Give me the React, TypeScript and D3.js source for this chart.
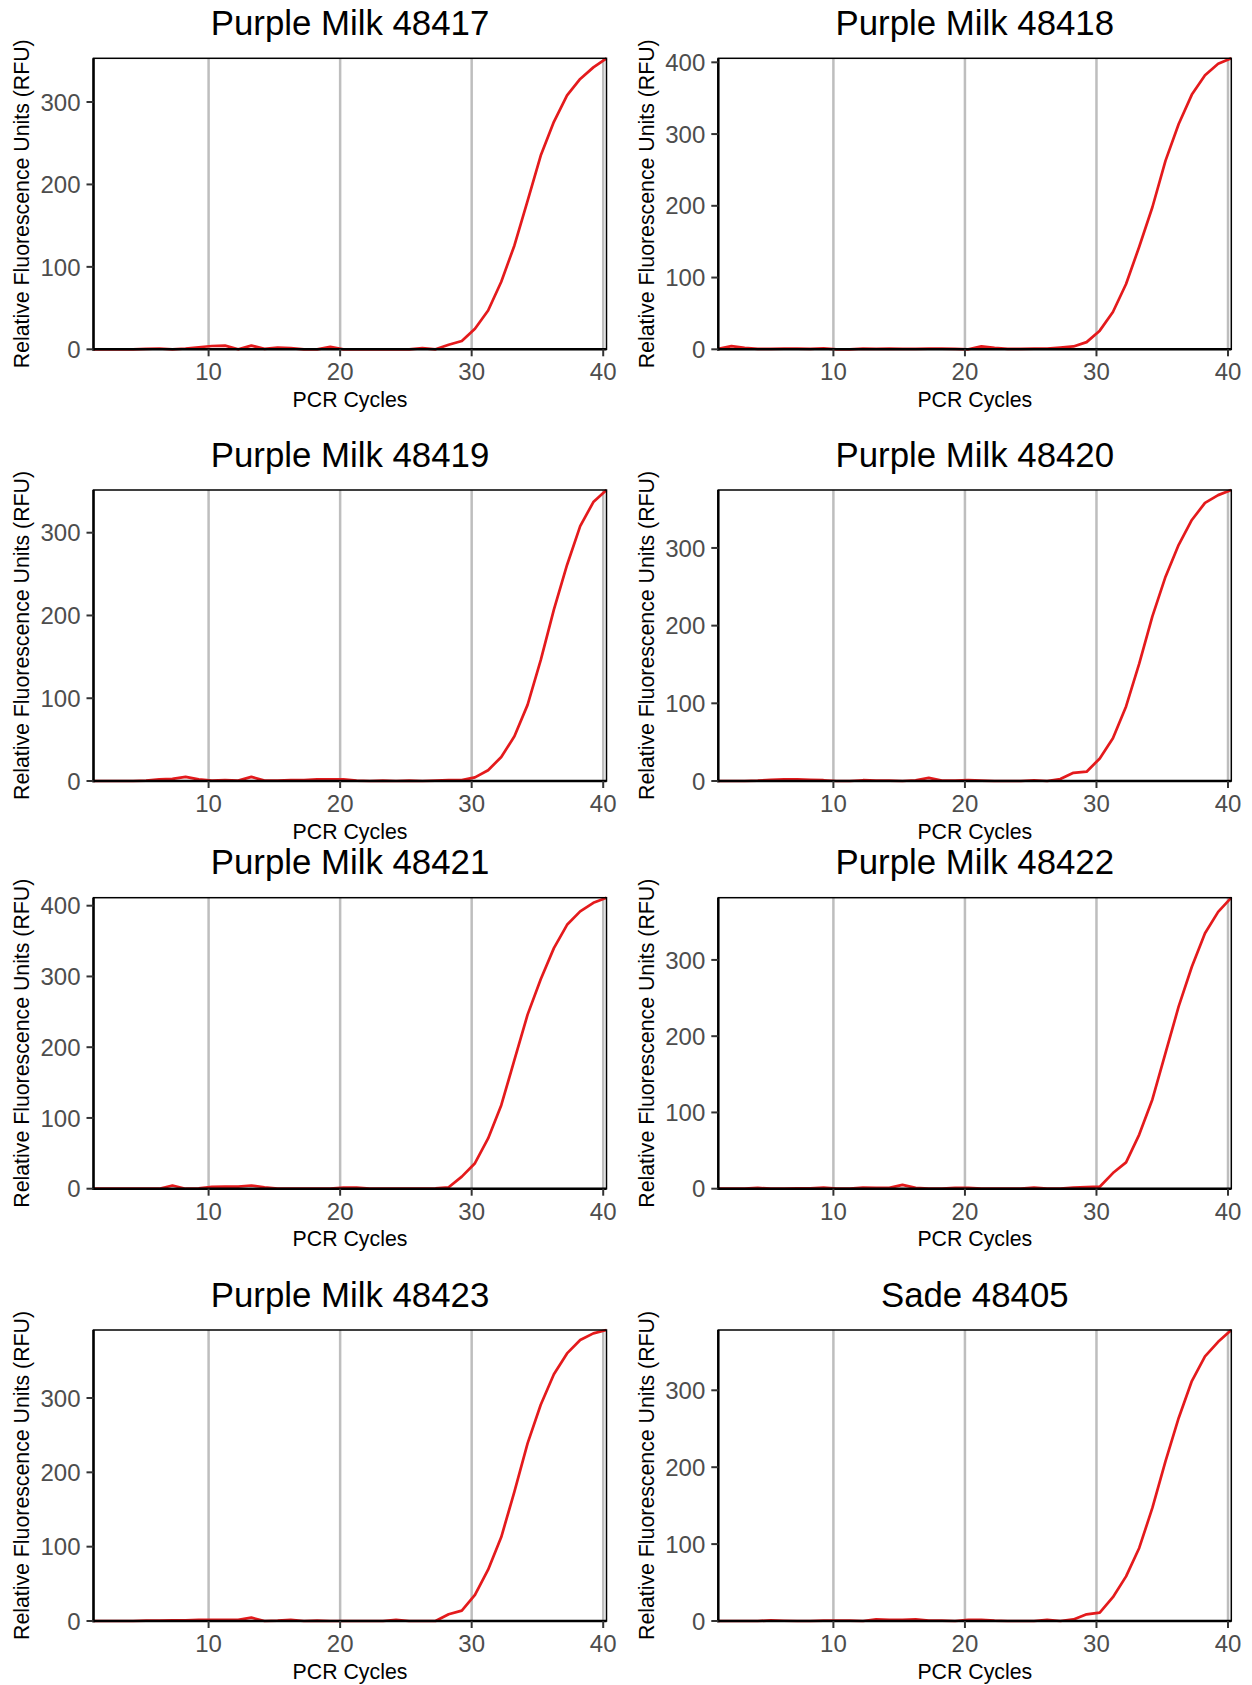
import React from "react";
import * as d3 from "d3";

// ---- data ----
const cycles = d3.range(1, 41); // PCR cycle numbers 1..40
const CYCLE_SHIFT = 0.25; // the curves' points sit ~0.25 cycle right of the integer gridlines

const sampleNames = [
  "Purple Milk 48417",
  "Purple Milk 48418",
  "Purple Milk 48419",
  "Purple Milk 48420",
  "Purple Milk 48421",
  "Purple Milk 48422",
  "Purple Milk 48423",
  "Sade 48405",
];

const rfu48417 = [0, 0, 0, 0, 0.5, 1, 0, 1, 2.5, 4, 4.5, 0, 4.5, 0.5, 2, 1.5, 0, 0, 3, 0, 0, 0, 0, 0, 0, 1.5, 0, 5.5, 10, 25, 47, 82, 126, 180, 235, 276, 308, 328, 342, 353];
const rfu48418 = [0.5, 4.5, 2, 0.5, 0.5, 1, 1, 0.5, 1.5, 0, 0, 1, 0.5, 1, 0.5, 0.5, 1, 1, 0.5, 0, 4, 2, 0.5, 0.5, 1, 1, 2.5, 4, 10, 26, 52, 91, 143, 198, 263, 314, 355, 382, 398, 405.6];
const rfu48419 = [0, 0, 0, 0, 0.5, 2, 2.5, 5, 2, 0.5, 1, 0.5, 5, 0.5, 0.5, 1, 1, 2, 2, 2, 0.5, 0, 0.5, 0, 0.5, 0, 0.5, 1, 1, 4.4, 13, 29, 54, 92, 146, 207, 261, 308, 337, 351.6];
const rfu48420 = [0, 0, 0, 0.5, 1.5, 2, 2, 1.5, 1, 0, 0, 1, 0.5, 0.5, 0, 1, 4, 0.5, 0.5, 1, 0.5, 0, 0, 0, 1, 0, 2.5, 10.5, 12, 29, 55, 96, 151, 212, 263, 304, 336, 358, 368, 374.6];
const rfu48421 = [0, 0, 0, 0, 0, 0, 4.5, 0, 0.5, 2.5, 3, 3, 4.5, 2, 0, 0, 0, 0, 0, 1.5, 1.5, 0, 0, 0, 0, 0, 0.5, 2, 17, 36, 71, 118, 182, 246, 296, 340, 373, 392, 404, 411.3];
const rfu48422 = [0, 0, 0, 1, 0, 0, 0.5, 0.5, 1.5, 0, 0, 1.5, 1, 1, 5, 1, 0, 0, 1, 1, 0, 0, 0, 0, 1.5, 0, 0, 1.5, 2, 2.6, 20.5, 34.5, 71, 117, 178, 239, 291, 335, 363, 381.6];
const rfu48423 = [0, 0, 0, 0, 0.5, 0.5, 1, 1, 1.5, 1.5, 1.5, 1.5, 4.5, 0, 0.5, 1.5, 0, 0.5, 0, 0, 0, 0, 0, 1.5, 0, 0, 0, 9, 14, 35, 69, 113, 174, 239, 291, 332, 360, 378, 387, 391.5];
const rfu48405 = [0, 0, 0, 0, 0.8, 0.3, 0, 0, 0.5, 0.5, 0.5, 0, 2, 1.5, 1.5, 2, 0.5, 0.5, 0, 1.5, 1.5, 0.5, 0, 0, 0, 1.5, 0, 2, 8.7, 11, 31, 58, 95, 147, 208, 264, 312, 344, 363, 378.4];

const seriesValues = [rfu48417, rfu48418, rfu48419, rfu48420, rfu48421, rfu48422, rfu48423, rfu48405];

const xTickValues = [10, 20, 30, 40];
const yTickValues = [0, 100, 200, 300, 400];

const xAxisTitle = "PCR Cycles";
const yAxisTitle = "Relative Fluorescence Units (RFU)";

// ---- layout ----
const WIDTH = 1252;
const HEIGHT = 1685;
const colLefts = [93.5, 718.3];
const rowTops = [58.3, 490, 897.7, 1330];
const PANEL_W = 513;
const PANEL_H = 291;

const FONT = "'Liberation Sans', Arial, Helvetica, sans-serif";
const LINE_COLOR = "#e41a1c";
const GRID_COLOR = "#bebebe";

function Panel({ name, values, left, top }: { name: string; values: number[]; left: number; top: number }) {
  const pts = cycles.map((c, i) => ({ x: c + CYCLE_SHIFT, y: values[i] }));
  const xScale = d3
    .scaleLinear()
    .domain(d3.extent(pts, (d) => d.x) as [number, number])
    .range([left, left + PANEL_W]);
  const yMax = d3.max(values) as number;
  const yScale = d3.scaleLinear().domain([0, yMax]).range([top + PANEL_H, top]);
  const line = d3
    .line<{ x: number; y: number }>()
    .x((d) => xScale(d.x))
    .y((d) => yScale(d.y));
  const bottom = top + PANEL_H;
  const right = left + PANEL_W;
  const yTicks = yTickValues.filter((v) => v <= yMax);
  const cx = (left + right) / 2;
  const cy = (top + bottom) / 2;

  return (
    <g>
      {xTickValues.map((t) => (
        <line key={"g" + t} x1={xScale(t)} x2={xScale(t)} y1={top} y2={bottom} stroke={GRID_COLOR} strokeWidth={2.5} />
      ))}
      <path d={line(pts) || ""} fill="none" stroke={LINE_COLOR} strokeWidth={2.7} strokeLinejoin="round" />
      <rect x={left} y={top} width={PANEL_W} height={PANEL_H} fill="none" stroke="#000" strokeWidth={1.5} />
      <line x1={left} x2={left} y1={top} y2={bottom + 1.2} stroke="#000" strokeWidth={2.5} />
      <line x1={left - 1.2} x2={right} y1={bottom} y2={bottom} stroke="#000" strokeWidth={2.5} />
      {yTicks.map((t) => (
        <g key={"y" + t}>
          <line x1={left - 7} x2={left} y1={yScale(t)} y2={yScale(t)} stroke="#333" strokeWidth={2} />
          <text x={left - 13} y={yScale(t)} dy="0.36em" textAnchor="end" fontSize={24} fill="#4d4d4d" fontFamily={FONT}>
            {t}
          </text>
        </g>
      ))}
      {xTickValues.map((t) => (
        <g key={"x" + t}>
          <line x1={xScale(t)} x2={xScale(t)} y1={bottom} y2={bottom + 7} stroke="#333" strokeWidth={2} />
          <text x={xScale(t)} y={bottom + 31} textAnchor="middle" fontSize={24} fill="#4d4d4d" fontFamily={FONT}>
            {t}
          </text>
        </g>
      ))}
      <text x={cx} y={bottom + 57.7} textAnchor="middle" fontSize={21.3} fill="#000" fontFamily={FONT}>
        {xAxisTitle}
      </text>
      <text
        transform={`translate(${left - 64.5},${cy}) rotate(-90)`}
        textAnchor="middle"
        fontSize={21.3}
        fill="#000"
        fontFamily={FONT}
      >
        {yAxisTitle}
      </text>
      <text x={cx} y={top - 23.3} textAnchor="middle" fontSize={34.8} fill="#000" fontFamily={FONT}>
        {name}
      </text>
    </g>
  );
}

export default function App() {
  return (
    <svg
      width={WIDTH}
      height={HEIGHT}
      viewBox={`0 0 ${WIDTH} ${HEIGHT}`}
      style={{ position: "absolute", left: 0, top: 0, background: "#fff" }}
    >
      <rect x={0} y={0} width={WIDTH} height={HEIGHT} fill="#fff" />
      {sampleNames.map((name, i) => (
        <Panel
          key={name}
          name={name}
          values={seriesValues[i]}
          left={colLefts[i % 2]}
          top={rowTops[Math.floor(i / 2)]}
        />
      ))}
    </svg>
  );
}
